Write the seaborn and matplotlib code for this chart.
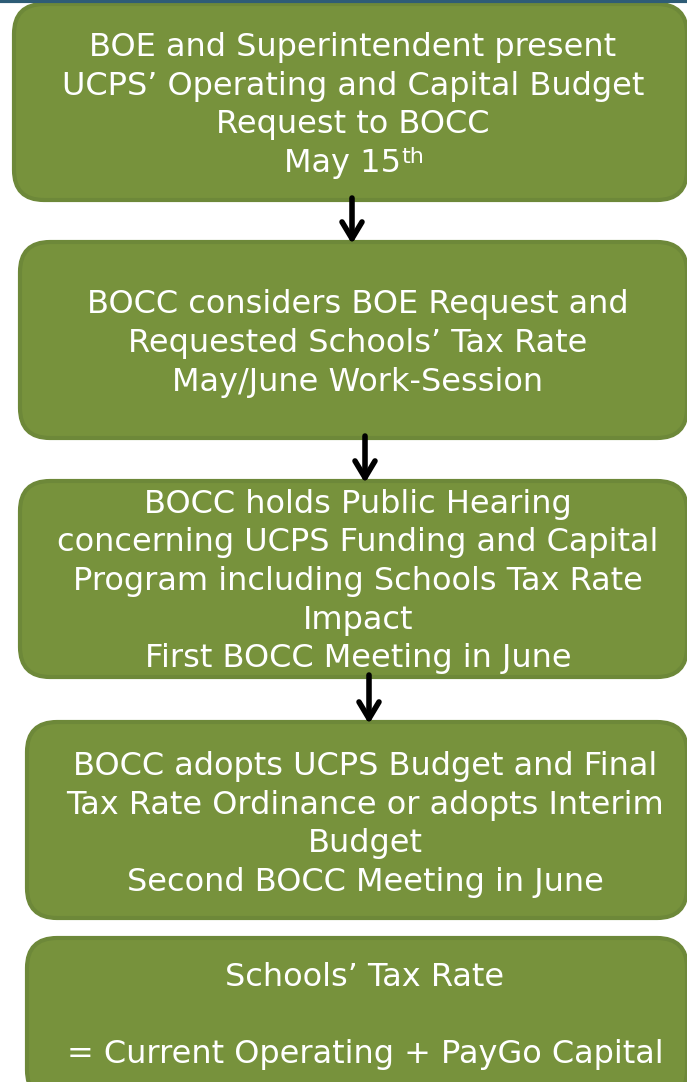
import matplotlib
matplotlib.use("Agg")
import matplotlib.pyplot as plt
import seaborn as sns
from matplotlib.patches import FancyBboxPatch

sns.set_theme(style="white")
plt.rcParams['font.family'] = ['DejaVu Sans']

# ---- content ----
step_lines = [
    ["BOE and Superintendent present", "UCPS\u2019 Operating and Capital Budget",
     "Request to BOCC", "May 15"],
    ["BOCC considers BOE Request and", "Requested Schools\u2019 Tax Rate",
     "May/June Work-Session"],
    ["BOCC holds Public Hearing", "concerning UCPS Funding and Capital",
     "Program including Schools Tax Rate", "Impact", "First BOCC Meeting in June"],
    ["BOCC adopts UCPS Budget and Final", "Tax Rate Ordinance or adopts Interim",
     "Budget", "Second BOCC Meeting in June"],
    ["Schools\u2019 Tax Rate", "", "= Current Operating + PayGo Capital"],
]
date_suffix = "th"

# ---- layout (pixels, y downward) ----
box_left = [14, 20, 20, 27, 27]
box_top = [4, 242, 481, 722, 938]
box_bottom = [200, 438, 677, 918, 1100]
box_right = 687
text_cx = [353, 358, 358, 365, 365]
text_cy = [103, 341, 579, 822, 1013]
arrow_x = [352, 365, 369]
pitch = 38.5

W, H = 687, 1082
fig = plt.figure(figsize=(W / 100, H / 100), dpi=100)
ax = fig.add_axes([0, 0, 1, 1])
ax.set_xlim(0, W)
ax.set_ylim(H, 0)
ax.axis("off")

fill = "#77923C"
edge = "#6D8839"
rad = 30

for i, lines in enumerate(step_lines):
    x0, y0, y1 = box_left[i], box_top[i], box_bottom[i]
    p = FancyBboxPatch((x0 + rad, y0 + rad), box_right - x0 - 2 * rad, y1 - y0 - 2 * rad,
                       boxstyle=f"round,pad={rad},rounding_size={rad}",
                       facecolor=fill, edgecolor=edge, linewidth=3, zorder=1)
    ax.add_patch(p)
    n = len(lines)
    for j, line in enumerate(lines):
        base = text_cy[i] + 11 + (j - (n - 1) / 2) * pitch
        if i == 0 and j == n - 1:
            t = ax.text(text_cx[i] - 11, base, line, ha="center", va="baseline",
                        color="white", fontsize=23, zorder=3)
            ax.annotate(date_suffix, xy=(1.0, base - 9), xycoords=(t, "data"),
                        xytext=(0.5, 0), textcoords="offset points",
                        ha="left", va="baseline", color="white", fontsize=16, zorder=3)
        else:
            ax.text(text_cx[i], base, line, ha="center", va="baseline",
                    color="white", fontsize=23, zorder=3)

for i, x in enumerate(arrow_x):
    ax.annotate("", xy=(x, box_top[i + 1] + 2), xytext=(x, box_bottom[i] - 2),
                arrowprops=dict(arrowstyle="->,head_length=1.0,head_width=0.6",
                                lw=4, color="black", shrinkA=0, shrinkB=0),
                zorder=4)

# top rule
ax.plot([0, W], [1, 1], color="#2E5C76", lw=3, zorder=5)

fig.savefig("out.png", dpi=100)
